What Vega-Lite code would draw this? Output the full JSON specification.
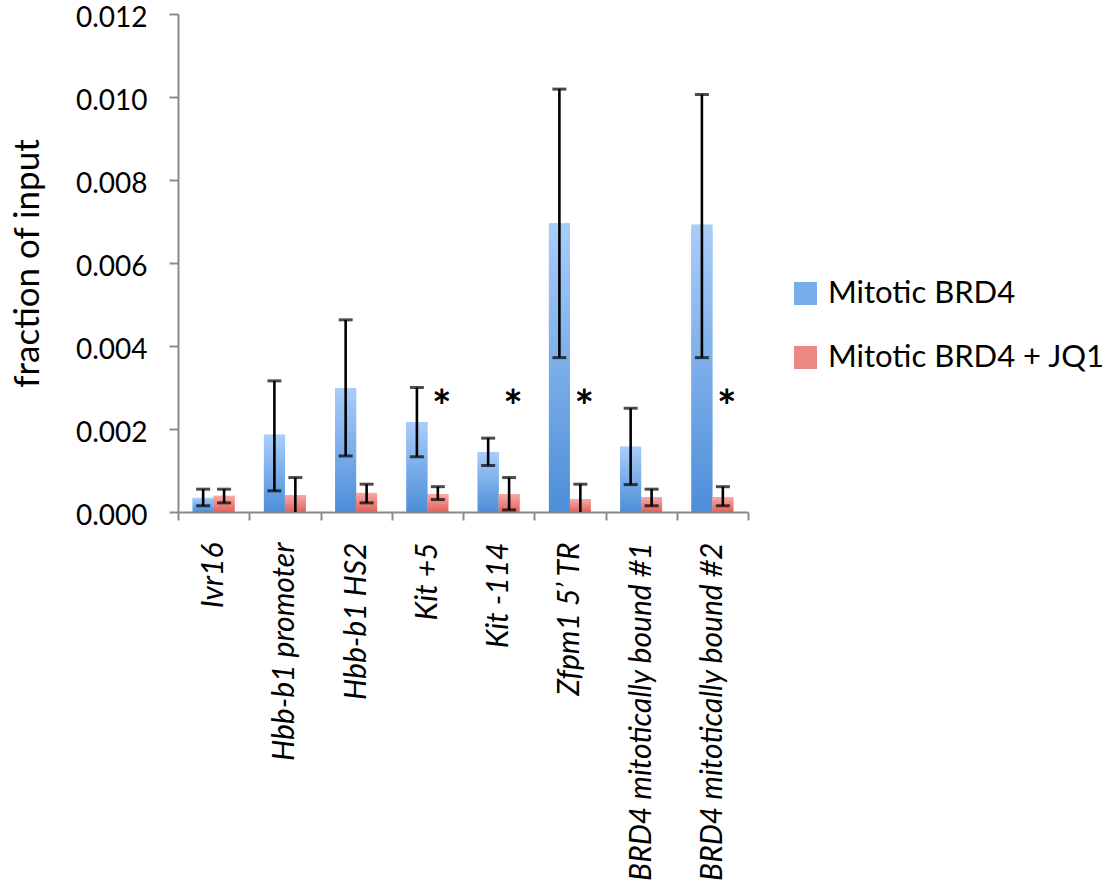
{
  "$schema": "https://vega.github.io/schema/vega-lite/v6.json",
  "width": 570,
  "height": 498,
  "autosize": {"type": "none"},
  "padding": {"left": 178, "top": 14, "right": 368, "bottom": 379},
  "background": "white",
  "config": {"view": {"stroke": null}, "font": "Lato"},
  "data": {
    "values": [
      {"target": "Ivr16", "series": "Mitotic BRD4", "mean": 0.00034, "lo": 0.00015, "hi": 0.00055, "star": false},
      {"target": "Ivr16", "series": "Mitotic BRD4 + JQ1", "mean": 0.00039, "lo": 0.00022, "hi": 0.00055, "star": false},
      {"target": "Hbb-b1 promoter", "series": "Mitotic BRD4", "mean": 0.00186, "lo": 0.00051, "hi": 0.00316, "star": false},
      {"target": "Hbb-b1 promoter", "series": "Mitotic BRD4 + JQ1", "mean": 0.00041, "lo": 0.0, "hi": 0.00083, "star": false},
      {"target": "Hbb-b1 HS2", "series": "Mitotic BRD4", "mean": 0.00299, "lo": 0.00135, "hi": 0.00463, "star": false},
      {"target": "Hbb-b1 HS2", "series": "Mitotic BRD4 + JQ1", "mean": 0.00046, "lo": 0.00022, "hi": 0.00067, "star": false},
      {"target": "Kit +5", "series": "Mitotic BRD4", "mean": 0.00217, "lo": 0.00133, "hi": 0.003, "star": false},
      {"target": "Kit +5", "series": "Mitotic BRD4 + JQ1", "mean": 0.00043, "lo": 0.0003, "hi": 0.00061, "star": true},
      {"target": "Kit -114", "series": "Mitotic BRD4", "mean": 0.00144, "lo": 0.00112, "hi": 0.00178, "star": false},
      {"target": "Kit -114", "series": "Mitotic BRD4 + JQ1", "mean": 0.00043, "lo": 0.00005, "hi": 0.00083, "star": true},
      {"target": "Zfpm1 5’ TR", "series": "Mitotic BRD4", "mean": 0.00695, "lo": 0.00372, "hi": 0.01019, "star": false},
      {"target": "Zfpm1 5’ TR", "series": "Mitotic BRD4 + JQ1", "mean": 0.00031, "lo": 0.0, "hi": 0.00067, "star": true},
      {"target": "BRD4 mitotically bound #1", "series": "Mitotic BRD4", "mean": 0.00157, "lo": 0.00066, "hi": 0.0025, "star": false},
      {"target": "BRD4 mitotically bound #1", "series": "Mitotic BRD4 + JQ1", "mean": 0.00036, "lo": 0.00015, "hi": 0.00055, "star": false},
      {"target": "BRD4 mitotically bound #2", "series": "Mitotic BRD4", "mean": 0.00692, "lo": 0.00372, "hi": 0.01006, "star": false},
      {"target": "BRD4 mitotically bound #2", "series": "Mitotic BRD4 + JQ1", "mean": 0.00036, "lo": 0.00015, "hi": 0.00061, "star": true}
    ]
  },
  "encoding": {
    "x": {
      "field": "target",
      "type": "nominal",
      "sort": null,
      "scale": {"paddingInner": 0, "paddingOuter": 0},
      "axis": {
        "title": null,
        "labelAngle": 270,
        "labelFontStyle": "italic",
        "labelFontSize": 30,
        "labelColor": "black",
        "labelPadding": 22,
        "labelLimit": 420,
        "tickSize": 8,
        "tickBand": "extent",
        "tickColor": "#8a8a8a",
        "tickWidth": 2,
        "domainColor": "#8a8a8a",
        "domainWidth": 2
      }
    },
    "xOffset": {
      "field": "series",
      "type": "nominal",
      "sort": ["Mitotic BRD4", "Mitotic BRD4 + JQ1"],
      "scale": {"paddingInner": 0, "paddingOuter": 0.7}
    }
  },
  "layer": [
    {
      "mark": {"type": "bar"},
      "encoding": {
        "y": {
          "field": "mean",
          "type": "quantitative",
          "scale": {"domain": [0, 0.012], "nice": false},
          "axis": {
            "values": [0, 0.002, 0.004, 0.006, 0.008, 0.01, 0.012],
            "format": ".3f",
            "grid": false,
            "tickSize": 9,
            "tickColor": "#8a8a8a",
            "tickWidth": 2,
            "domainColor": "#8a8a8a",
            "domainWidth": 2,
            "labelFontSize": 28,
            "labelColor": "black",
            "labelPadding": 22,
            "labelOffset": 4,
            "title": "fraction of input",
            "titleFontSize": 35,
            "titleFontWeight": "normal",
            "titleColor": "black",
            "titlePadding": 30
          }
        },
        "color": {
          "field": "series",
          "type": "nominal",
          "scale": {"domain": ["Mitotic BRD4", "Mitotic BRD4 + JQ1"], "range": ["#78adec", "#ec8783"]},
          "legend": {
            "title": null,
            "orient": "none",
            "legendX": 612,
            "legendY": 264,
            "padding": 0,
            "symbolType": "square",
            "symbolSize": 529,
            "symbolStrokeWidth": 0,
            "labelFontSize": 31,
            "labelColor": "black",
            "labelOffset": 7,
            "labelLimit": 420,
            "rowPadding": 32
          }
        }
      }
    },
    {
      "mark": {"type": "bar"},
      "encoding": {
        "y": {"field": "mean", "type": "quantitative"},
        "fill": {
          "condition": {"test": "datum.series === 'Mitotic BRD4'", "value": {"gradient": "linear", "x1": 0, "y1": 0, "x2": 0, "y2": 1, "stops": [{"offset": 0, "color": "#a9cdfa"}, {"offset": 1, "color": "#4d8ed8"}]}},
          "value": {"gradient": "linear", "x1": 0, "y1": 0, "x2": 0, "y2": 1, "stops": [{"offset": 0, "color": "#f9aaa6"}, {"offset": 1, "color": "#df625d"}]}
        }
      }
    },
    {
      "mark": {"type": "rule", "color": "black", "strokeWidth": 2.6},
      "encoding": {
        "y": {"field": "lo", "type": "quantitative"},
        "y2": {"field": "hi"}
      }
    },
    {
      "mark": {"type": "tick", "color": "black", "size": 14, "thickness": 3},
      "encoding": {
        "y": {"field": "hi", "type": "quantitative"}
      }
    },
    {
      "transform": [{"filter": "datum.lo > 0"}],
      "mark": {"type": "tick", "color": "black", "size": 14, "thickness": 3},
      "encoding": {
        "y": {"field": "lo", "type": "quantitative"}
      }
    },
    {
      "transform": [{"filter": "datum.star"}],
      "mark": {"type": "text", "fontSize": 46, "fontWeight": "bold", "color": "black", "baseline": "middle", "dx": 4},
      "encoding": {
        "y": {"datum": 0.00248},
        "text": {"value": "*"}
      }
    }
  ]
}
